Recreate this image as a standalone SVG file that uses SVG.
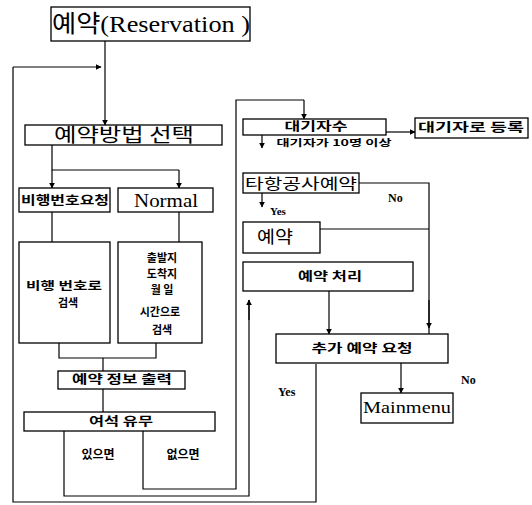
<svg xmlns="http://www.w3.org/2000/svg" width="532" height="505" viewBox="0 0 532 505">
<defs>
<marker id="ah" viewBox="0 0 10 10" refX="9" refY="5" markerWidth="6" markerHeight="6" orient="auto" markerUnits="userSpaceOnUse">
<path d="M0,0 L10,5 L0,10 z" fill="#000"/>
</marker>
</defs>
<style>
.box{fill:#fff;stroke:#000;stroke-width:1.3}
.ln{fill:none;stroke:#000;stroke-width:1.2}
.ar{marker-end:url(#ah)}
.k{font-family:"Noto Sans CJK KR","Liberation Sans",sans-serif;font-weight:bold;fill:#000;text-anchor:middle}
.kt{font-family:"Liberation Serif","Noto Sans CJK KR",serif;fill:#000}
.s{font-family:"Liberation Serif",serif;fill:#000;font-weight:bold}
</style>
<rect width="532" height="505" fill="#fff"/>
<g id="connectors">
<line class="ln ar" x1="105" y1="41" x2="105" y2="125"/>
<polyline class="ln" points="13,67 13,502 316,502 316,364"/>
<line class="ln ar" x1="13" y1="67" x2="101" y2="67"/>
<polyline class="ln" points="52,145 52,170 179,170"/>
<line class="ln ar" x1="52" y1="170" x2="52" y2="188"/>
<line class="ln ar" x1="179" y1="170" x2="179" y2="188"/>
<line class="ln" x1="52" y1="212" x2="52" y2="242"/>
<line class="ln" x1="179" y1="212" x2="179" y2="242"/>
<polyline class="ln" points="59,343 59,358 156,358 156,343"/>
<line class="ln" x1="103" y1="358" x2="103" y2="371"/>
<line class="ln" x1="103" y1="389" x2="103" y2="412"/>
<polyline class="ln" points="64,431 64,496 249,496 249,300"/>
<line class="ln ar" x1="249" y1="320" x2="249" y2="300"/>
<polyline class="ln" points="143,431 143,489 236,489 236,100 304,100"/>
<line class="ln ar" x1="304" y1="100" x2="304" y2="119"/>
<line class="ln ar" x1="386" y1="132" x2="415" y2="132"/>
<line class="ln ar" x1="262" y1="135" x2="262" y2="148"/>
<line class="ln ar" x1="262" y1="193" x2="262" y2="207"/>
<polyline class="ln" points="359,183 429,183 429,334"/>
<line class="ln ar" x1="429" y1="300" x2="429" y2="328"/>
<line class="ln" x1="320" y1="229" x2="429" y2="229"/>
<line class="ln ar" x1="329" y1="291" x2="329" y2="334"/>
<line class="ln ar" x1="401" y1="363" x2="401" y2="393"/>
</g>
<g id="n-title">
<rect class="box" x="51" y="7" width="199" height="34"/>
<text class="kt" x="52" y="32" font-size="24" textLength="198" lengthAdjust="spacingAndGlyphs">예약(Reservation )</text>
</g>
<g id="n-method">
<rect class="box" x="25" y="125" width="197" height="20"/>
<text class="k" x="124" y="142" font-size="19" style="font-weight:normal" textLength="140" lengthAdjust="spacingAndGlyphs">예약방법 선택</text>
</g>
<g id="n-flightreq">
<rect class="box" x="19" y="188" width="91" height="24"/>
<text class="k" x="65" y="205" font-size="12" textLength="88" lengthAdjust="spacingAndGlyphs">비행번호요청</text>
</g>
<g id="n-normal">
<rect class="box" x="118" y="188" width="95" height="24"/>
<text class="kt" x="166" y="207" font-size="18" text-anchor="middle" textLength="64" lengthAdjust="spacingAndGlyphs">Normal</text>
</g>
<g id="n-flightsearch">
<rect class="box" x="19" y="242" width="91" height="101"/>
<text class="k" x="64" y="290" font-size="11" textLength="76" lengthAdjust="spacingAndGlyphs">비행 번호로</text>
<text class="k" x="68" y="307" font-size="11">검색</text>
</g>
<g id="n-normalsearch">
<rect class="box" x="118" y="242" width="84" height="101"/>
<text class="k" x="162" y="262" font-size="11">출발지</text>
<text class="k" x="162" y="278" font-size="11">도착지</text>
<text class="k" x="162" y="294" font-size="11">월 일</text>
<text class="k" x="160" y="316" font-size="11">시간으로</text>
<text class="k" x="162" y="334" font-size="11">검색</text>
</g>
<g id="n-info">
<rect class="box" x="58" y="371" width="127" height="18"/>
<text class="k" x="122" y="384" font-size="12" textLength="100" lengthAdjust="spacingAndGlyphs">예약 정보 출력</text>
</g>
<g id="n-seat">
<rect class="box" x="24" y="412" width="191" height="19"/>
<text class="k" x="121" y="426" font-size="12" textLength="64" lengthAdjust="spacingAndGlyphs">여석 유무</text>
</g>
<g id="n-yes-label">
<text class="k" x="98" y="459" font-size="12">있으면</text>
</g>
<g id="n-no-label">
<text class="k" x="183" y="459" font-size="12">없으면</text>
</g>
<g id="n-waitcount">
<rect class="box" x="243" y="119" width="143" height="16"/>
<text class="k" x="316" y="131" font-size="12" textLength="63" lengthAdjust="spacingAndGlyphs">대기자수</text>
</g>
<g id="n-waitreg">
<rect class="box" x="415" y="118" width="113" height="20"/>
<text class="k" x="471" y="132" font-size="12" textLength="106" lengthAdjust="spacingAndGlyphs">대기자로 등록</text>
</g>
<text class="k" x="334" y="146" font-size="9" textLength="115" lengthAdjust="spacingAndGlyphs">대기자가 10명 이상</text>
<g id="n-other">
<rect class="box" x="243" y="173" width="116" height="20"/>
<text class="k" x="301" y="189" font-size="15" style="font-weight:normal" textLength="112" lengthAdjust="spacingAndGlyphs">타항공사예약</text>
</g>
<text class="s" x="388" y="202" font-size="12">No</text>
<text class="s" x="270" y="215" font-size="11">Yes</text>
<g id="n-reserve">
<rect class="box" x="243" y="222" width="77" height="31"/>
<text class="k" x="275" y="243" font-size="17" style="font-weight:normal" textLength="36" lengthAdjust="spacingAndGlyphs">예약</text>
</g>
<g id="n-process">
<rect class="box" x="243" y="262" width="170" height="29"/>
<text class="k" x="330" y="281" font-size="12" textLength="64" lengthAdjust="spacingAndGlyphs">예약 처리</text>
</g>
<g id="n-more">
<rect class="box" x="276" y="334" width="172" height="29"/>
<text class="k" x="362" y="353" font-size="12" textLength="101" lengthAdjust="spacingAndGlyphs">추가 예약 요청</text>
</g>
<text class="s" x="278" y="396" font-size="12">Yes</text>
<text class="s" x="461" y="384" font-size="12">No</text>
<g id="n-mainmenu">
<rect class="box" x="361" y="393" width="92" height="30"/>
<text class="kt" x="407" y="413" font-size="17" text-anchor="middle" textLength="88" lengthAdjust="spacingAndGlyphs">Mainmenu</text>
</g>
</svg>
